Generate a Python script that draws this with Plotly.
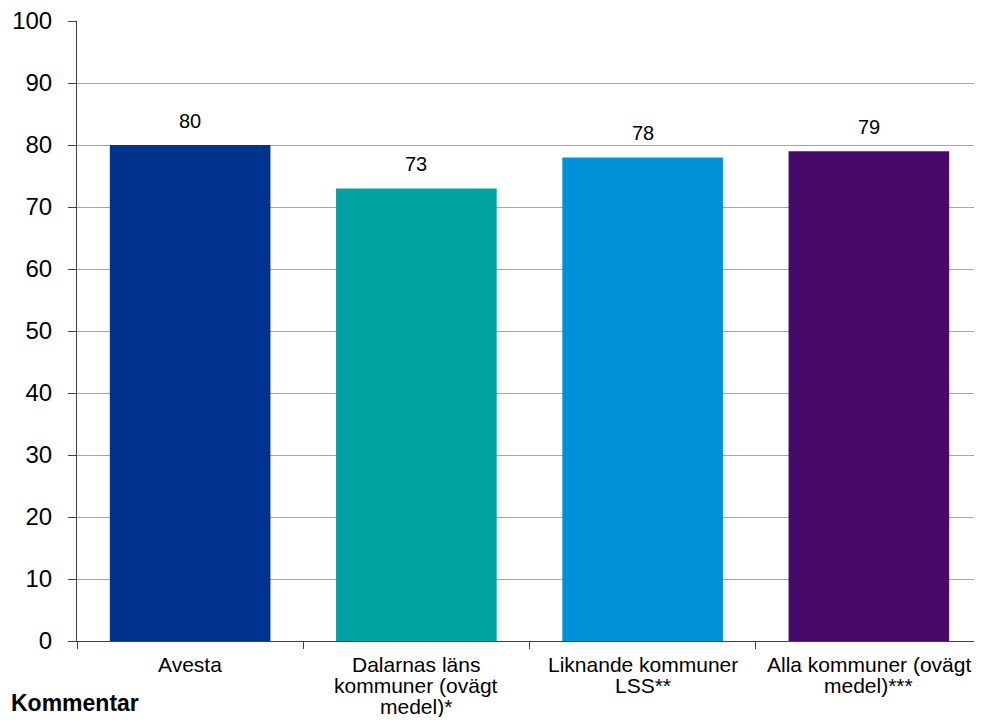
import plotly.graph_objects as go

categories = ["Avesta", "Dalarnas läns kommuner (ovägt medel)*",
              "Liknande kommuner LSS**", "Alla kommuner (ovägt medel)***"]
label_lines = [["Avesta"],
               ["Dalarnas läns", "kommuner (ovägt", "medel)*"],
               ["Liknande kommuner", "LSS**"],
               ["Alla kommuner (ovägt", "medel)***"]]
values = [80, 73, 78, 79]
colors = ["#00338D", "#00A3A1", "#0091DA", "#470A68"]
y_ticks = [0, 10, 20, 30, 40, 50, 60, 70, 80, 90, 100]

fig = go.Figure()
fig.add_trace(go.Bar(x=categories, y=values, marker=dict(color=colors, line=dict(width=0)),
                     width=0.71, showlegend=False, hoverinfo="skip"))

for c, v in zip(categories, values):
    fig.add_annotation(x=c, y=v, text=str(v), showarrow=False, yanchor="bottom",
                       yshift=11, font=dict(size=20, color="#000"))

for c, lines in zip(categories, label_lines):
    for i, line in enumerate(lines):
        fig.add_annotation(x=c, xref="x", y=0, yref="paper", text=line, showarrow=False,
                           yanchor="top", yshift=-10 - 21 * i, font=dict(size=21, color="#000"))

fig.add_annotation(xref="paper", yref="paper", x=-0.075, y=0, xanchor="left", yanchor="bottom",
                   yshift=-77, text="<b>Kommentar</b>", showarrow=False,
                   font=dict(size=23, color="#000"))

fig.update_layout(
    width=974, height=709,
    margin=dict(l=69, r=0, t=13, b=76),
    paper_bgcolor="white", plot_bgcolor="white",
    font=dict(family="Liberation Sans, Arial, sans-serif", color="#000"),
    bargap=0.29,
    xaxis=dict(showgrid=False, showline=True, linecolor="#404040", linewidth=1,
               ticks="outside", tickson="boundaries", ticklen=7, tickcolor="#404040",
               showticklabels=False, range=[-0.5, 3.5], automargin=False),
    yaxis=dict(range=[0, 100], tickvals=y_ticks, showgrid=True, gridcolor="#A6A6A6", gridwidth=1,
               showline=True, linecolor="#404040", linewidth=1, ticks="outside", ticklen=8,
               tickcolor="#404040", tickfont=dict(size=24), zeroline=False,
               ticklabelstandoff=11, ticklabeloverflow="allow", automargin=False),
)

fig.write_html("out.html")
